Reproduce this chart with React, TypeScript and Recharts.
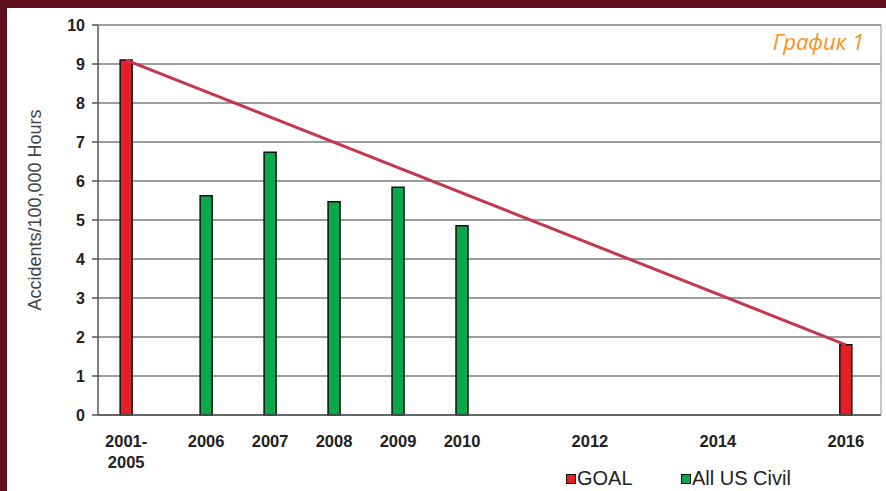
import React from 'react';
import {
  ComposedChart,
  Bar,
  Line,
  XAxis,
  YAxis,
  CartesianGrid,
  Legend,
  ReferenceLine,
} from 'recharts';

// plotted position of the aggregated 2001-2005 baseline bar
const BASELINE_POS = 2004.75;

const goalYears = [BASELINE_POS, 2016];
const goalValues = [9.1, 1.8];

const civilYears = [2006, 2007, 2008, 2009, 2010];
const civilValues = [5.62, 6.74, 5.47, 5.84, 4.85];

const xTicks = [BASELINE_POS, 2006, 2007, 2008, 2009, 2010, 2012, 2014, 2016];
const xTickLabels = ['2001-|2005', '2006', '2007', '2008', '2009', '2010', '2012', '2014', '2016'];
const yTicks = [0, 1, 2, 3, 4, 5, 6, 7, 8, 9, 10];

const RED = '#e41f26';
const GREEN = '#0aa84a';
const FONT = '"Liberation Sans", Arial, sans-serif';

const rows = [
  ...goalYears.map((year, i) => ({ year, goal: goalValues[i], goalLine: goalValues[i] })),
  ...civilYears.map((year, i) => ({ year, civil: civilValues[i] })),
].sort((a, b) => a.year - b.year);

function XTick(props: any) {
  const { x, y, payload } = props;
  const idx = xTicks.indexOf(payload.value);
  const lines = (xTickLabels[idx] ?? '').split('|');
  return (
    <text
      x={x}
      y={y + 24}
      textAnchor="middle"
      fontFamily={FONT}
      fontWeight="bold"
      fontSize={16.5}
      fill="#222"
    >
      {lines.map((l, i) => (
        <tspan key={i} x={x} dy={i === 0 ? 0 : 21}>
          {l}
        </tspan>
      ))}
    </text>
  );
}

function LegendBox() {
  const items = [
    { name: 'GOAL', color: RED, left: 566 },
    { name: 'All US Civil', color: GREEN, left: 681 },
  ];
  return (
    <div style={{ position: 'relative', height: 24, width: '100%' }}>
      {items.map((it) => (
        <div
          key={it.name}
          style={{
            position: 'absolute',
            left: it.left,
            top: 0,
            display: 'flex',
            alignItems: 'center',
            fontFamily: FONT,
            fontSize: 20,
            color: '#222',
          }}
        >
          <span
            style={{
              width: 8,
              height: 8,
              background: it.color,
              border: '1.5px solid #111',
              marginRight: 1,
              display: 'inline-block',
            }}
          />
          {it.name}
        </div>
      ))}
    </div>
  );
}

export default function App() {
  return (
    <div style={{ position: 'absolute', left: 0, top: 0, width: 886, height: 491, background: '#fff' }}>
      <ComposedChart
        width={886}
        height={491}
        data={rows}
        margin={{ top: 25, right: 5, bottom: 0, left: 0 }}
      >
        <CartesianGrid vertical={false} stroke="#7d7d7d" strokeWidth={1.5} />
        <XAxis
          dataKey="year"
          type="number"
          domain={[2004.31, 2016.55]}
          ticks={xTicks}
          interval={0}
          allowDataOverflow
          height={52}
          tickLine={false}
          axisLine={{ stroke: '#555', strokeWidth: 1.5 }}
          tick={<XTick />}
        />
        <YAxis
          type="number"
          domain={[0, 10]}
          ticks={yTicks}
          interval={0}
          width={98}
          tickSize={6}
          tickMargin={7}
          axisLine={{ stroke: '#555', strokeWidth: 1.5 }}
          tickLine={{ stroke: '#555', strokeWidth: 1.5 }}
          tick={{ fontFamily: FONT, fontWeight: 'bold', fontSize: 16, fill: '#222' }}
          label={{
            value: 'Accidents/100,000 Hours',
            angle: -90,
            position: 'insideLeft',
            dx: 30,
            dy: -10,
            style: { fontFamily: FONT, fontSize: 18, fill: '#444', textAnchor: 'middle' },
          }}
        />
        <ReferenceLine x={2016.55} stroke="#b5b5b5" strokeWidth={1.5} />
        <Legend verticalAlign="bottom" height={24} content={<LegendBox />} />
        <Bar
          dataKey="goal"
          name="GOAL"
          stackId="s"
          barSize={12}
          fill={RED}
          stroke="#111"
          strokeWidth={1.5}
          isAnimationActive={false}
        />
        <Bar
          dataKey="civil"
          name="All US Civil"
          stackId="s"
          barSize={12}
          fill={GREEN}
          stroke="#111"
          strokeWidth={1.5}
          isAnimationActive={false}
        />
        <Line
          dataKey="goalLine"
          type="linear"
          connectNulls
          stroke="#c4374f"
          strokeWidth={3}
          dot={false}
          activeDot={false}
          legendType="none"
          isAnimationActive={false}
        />
      </ComposedChart>
      <div style={{ position: 'absolute', left: 0, top: 0, width: 886, height: 8, background: '#5e0f1b' }} />
      <div style={{ position: 'absolute', left: 0, top: 0, width: 7, height: 491, background: '#5e0f1b' }} />
      <div
        style={{
          position: 'absolute',
          right: 22,
          top: 26,
          fontFamily: '"Open Sans", sans-serif',
          fontStyle: 'italic',
          fontSize: 22,
          color: '#f7941d',
        }}
      >
        График 1
      </div>
    </div>
  );
}
